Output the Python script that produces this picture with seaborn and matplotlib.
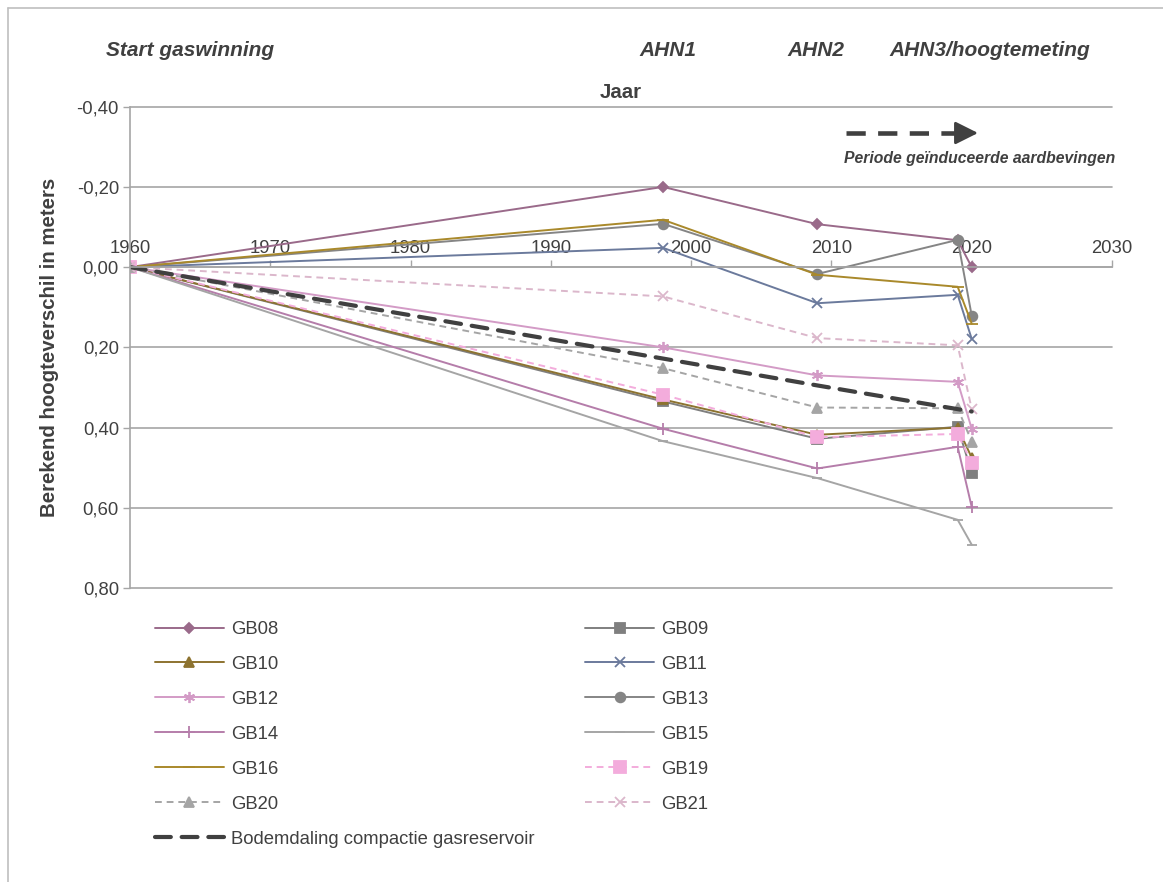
import numpy as np
import pandas as pd
import matplotlib
matplotlib.use("Agg")
import matplotlib.pyplot as plt
import seaborn as sns
from matplotlib.lines import Line2D
from matplotlib.ticker import FuncFormatter

# ---------------- data ----------------
years = [1960, 1998, 2009, 2019, 2020]
gb08 = [0.00, -0.200, -0.107, -0.067, 0.000]
gb09 = [0.00, 0.335, 0.428, 0.398, 0.513]
gb10 = [0.00, 0.330, 0.418, 0.400, 0.475]
gb11 = [0.00, -0.048, 0.090, 0.069, 0.179]
gb12 = [0.00, 0.200, 0.270, 0.286, 0.403]
gb13 = [0.00, -0.108, 0.017, -0.068, 0.121]
gb14 = [0.00, 0.403, 0.502, 0.448, 0.598]
gb15 = [0.00, 0.434, 0.526, 0.630, 0.692]
gb16 = [0.00, -0.118, 0.019, 0.049, 0.141]
gb19 = [0.00, 0.318, 0.424, 0.416, 0.488]
gb20 = [0.00, 0.252, 0.350, 0.352, 0.435]
gb21 = [0.00, 0.073, 0.177, 0.195, 0.354]
comp_years = [1960, 1998, 2009, 2020]
compactie = [0.00, 0.228, 0.295, 0.360]

series_names = ["GB08", "GB09", "GB10", "GB11", "GB12", "GB13", "GB14",
                "GB15", "GB16", "GB19", "GB20", "GB21"]
series_values = [gb08, gb09, gb10, gb11, gb12, gb13, gb14,
                 gb15, gb16, gb19, gb20, gb21]
comp_label = "Bodemdaling compactie gasreservoir"

x_ticks = [1960, 1970, 1980, 1990, 2000, 2010, 2020, 2030]
y_ticks = [-0.40, -0.20, 0.00, 0.20, 0.40, 0.60, 0.80]

top_labels = ["Start gaswinning", "AHN1", "AHN2", "AHN3/hoogtemeting"]

# ---------------- styles ----------------
styles = {
    "GB08": dict(color="#9A6A8A", marker="D", ms=5, ls="-"),
    "GB09": dict(color="#7F7F7F", marker="s", ms=6.5, ls="-"),
    "GB10": dict(color="#8D7330", marker="^", ms=7, ls="-"),
    "GB11": dict(color="#6B7A9C", marker="x", ms=7, ls="-"),
    "GB12": dict(color="#D39BC6", marker=(6, 2, 0), ms=8, ls="-"),
    "GB13": dict(color="#858585", marker="o", ms=7, ls="-"),
    "GB14": dict(color="#B57DAA", marker="+", ms=9, ls="-"),
    "GB15": dict(color="#A5A5A5", marker="_", ms=7, ls="-"),
    "GB16": dict(color="#A9892B", marker="_", ms=8, ls="-"),
    "GB19": dict(color="#F3ACDC", marker="s", ms=8, ls="--"),
    "GB20": dict(color="#A5A5A5", marker="^", ms=7, ls="--"),
    "GB21": dict(color="#DBB7CB", marker="x", ms=7, ls="--"),
}
TXT = "#404040"
GRID = "#A6A6A6"

sns.set_theme(style="white")
plt.rcParams["font.family"] = ["Liberation Sans", "DejaVu Sans"]
plt.rcParams["text.color"] = TXT

W, H = 1163, 882
fig = plt.figure(figsize=(W / 100, H / 100), dpi=100)
fig.patch.set_facecolor("white")

ax_l, ax_r, ax_t, ax_b = 130, 1112, 106.7, 588
ax = fig.add_axes([ax_l / W, 1 - ax_b / H, (ax_r - ax_l) / W, (ax_b - ax_t) / H])
ax.set_facecolor("white")

handles = {}
for name, vals in zip(series_names, series_values):
    st = styles[name]
    sns.lineplot(x=years, y=vals, ax=ax, color=st["color"], marker=st["marker"],
                 markersize=st["ms"], markeredgecolor=st["color"],
                 markerfacecolor=st["color"], markeredgewidth=1.3,
                 linewidth=1.4, legend=False, sort=False)
    ln = ax.lines[-1]
    if st["ls"] == "--":
        ln.set_linestyle((0, (3.5, 2.5)))
    else:
        ln.set_linestyle("-")
    ln.set_label(name)
    handles[name] = ln

sns.lineplot(x=comp_years, y=compactie, ax=ax, color="#404040", linewidth=3.0,
             legend=False, sort=False)
cl = ax.lines[-1]
cl.set_linestyle((0, (3.8, 2.6)))
cl.set_dash_capstyle("round")
cl.set_label(comp_label)
handles[comp_label] = cl

# axes
ax.set_xlim(1960, 2030)
ax.set_ylim(0.8, -0.4)
ax.set_xticks(x_ticks)
ax.set_yticks(y_ticks)
ax.yaxis.set_major_formatter(FuncFormatter(lambda v, p: f"{v:.2f}".replace(".", ",").replace("-0,00", "0,00")))
ax.xaxis.set_major_formatter(FuncFormatter(lambda v, p: f"{int(round(v))}"))

ax.spines["bottom"].set_visible(False)
ax.spines["right"].set_visible(False)
ax.spines["top"].set_position(("data", 0))
ax.spines["top"].set_color(GRID)
ax.spines["top"].set_linewidth(1.2)
ax.spines["left"].set_color(GRID)
ax.spines["left"].set_linewidth(1.2)
ax.xaxis.set_ticks_position("top")
ax.tick_params(axis="x", direction="out", length=5, width=1, color=GRID,
               labelsize=13.3, labelcolor=TXT, pad=2)
ax.tick_params(axis="y", direction="out", length=5, width=1, color=GRID,
               labelsize=13.3, labelcolor=TXT, pad=3, left=True)
ax.yaxis.grid(True, color=GRID, linewidth=1.2)
ax.xaxis.grid(False)
ax.set_axisbelow(True)
for gl in ax.get_ygridlines():
    gl.set_clip_on(False)

ax.set_title("Jaar", fontsize=14.7, fontweight="bold", color=TXT, pad=6)
ax.set_ylabel("Berekend hoogteverschil in meters", fontsize=14.7,
              fontweight="bold", color=TXT)
ax.yaxis.set_label_coords((50 - ax_l) / (ax_r - ax_l), 0.5)
ax.yaxis.label.set_va("center")

# top annotations
top_x = [190, 668, 816, 990]
for t, xp in zip(top_labels, top_x):
    fig.text(xp / W, 1 - 50 / H, t, ha="center", va="center", fontsize=15,
             fontweight="bold", fontstyle="italic", color=TXT)

# arrow for induced earthquakes period
ay = 1 - 133 / H
fig.add_artist(Line2D([846 / W, 962 / W], [ay, ay], transform=fig.transFigure,
                      color="#404040", linewidth=3.3,
                      linestyle=(0, (4.2, 2.7))))
fig.add_artist(matplotlib.patches.FancyArrowPatch(
    (958 / W, ay), (978 / W, ay), transform=fig.transFigure,
    arrowstyle="-|>,head_length=1.0,head_width=0.5", mutation_scale=14,
    color="#404040", linewidth=2.0, shrinkA=0, shrinkB=0))
fig.text(844 / W, 1 - 158 / H, "Periode geïnduceerde aardbevingen",
         ha="left", va="center", fontsize=11.3, fontweight="bold",
         fontstyle="italic", color=TXT)

# legend (row-major order in reference => column-major reordering)
col1 = ["GB08", "GB10", "GB12", "GB14", "GB16", "GB20", comp_label]
col2 = ["GB09", "GB11", "GB13", "GB15", "GB19", "GB21"]
order = col1 + col2
leg = fig.legend([handles[k] for k in order], order, ncol=2,
                 loc="upper left", bbox_to_anchor=(155 / W, 1 - 621 / H),
                 frameon=False, fontsize=13.3, borderpad=0, borderaxespad=0,
                 handlelength=3.73, handletextpad=0.38, columnspacing=2.75,
                 labelspacing=0.97, numpoints=1)
for t in leg.get_texts():
    t.set_color(TXT)

# figure border (left and top)
fig.add_artist(Line2D([7.5 / W, 7.5 / W], [0, 1 - 7.5 / H], transform=fig.transFigure,
                      color="#BFBFBF", linewidth=1.2))
fig.add_artist(Line2D([7.5 / W, 1], [1 - 7.5 / H, 1 - 7.5 / H], transform=fig.transFigure,
                      color="#BFBFBF", linewidth=1.2))

fig.savefig("out.png", dpi=100, facecolor="white")
